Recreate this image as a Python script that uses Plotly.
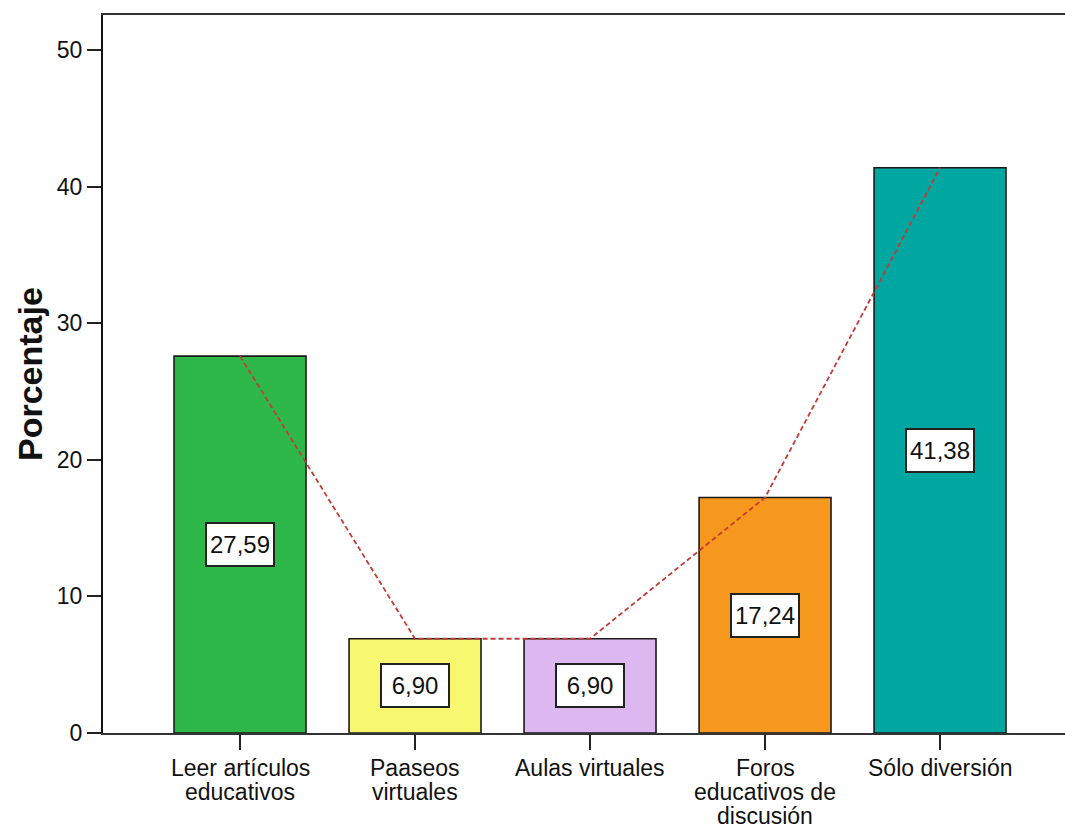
import plotly.graph_objects as go

categories = ["Leer artículos educativos", "Paaseos virtuales", "Aulas virtuales",
              "Foros educativos de discusión", "Sólo diversión"]
label_lines = [["Leer artículos", "educativos"], ["Paaseos", "virtuales"], ["Aulas virtuales"],
               ["Foros", "educativos de", "discusión"], ["Sólo diversión"]]
values = [27.59, 6.90, 6.90, 17.24, 41.38]
colors = ["#2EB84A", "#F8F870", "#DDB8F0", "#F7981E", "#00A6A0"]
y_ticks = [0, 10, 20, 30, 40, 50]

FONT = "Liberation Sans, Arial, sans-serif"
pos = list(range(len(categories)))

fig = go.Figure()
fig.add_trace(go.Bar(x=pos, y=values, width=0.754,
                     marker=dict(color=colors, line=dict(color="#1a1a1a", width=1.6)),
                     hoverinfo="skip"))
fig.add_trace(go.Scatter(x=pos, y=values, mode="lines",
                         line=dict(color="#C43A35", width=1.8, dash="5px,3px"),
                         hoverinfo="skip"))

annotations = []
for i, v in enumerate(values):
    annotations.append(dict(x=i, y=v / 2, xref="x", yref="y", showarrow=False,
                            text=f"{v:.2f}".replace(".", ","),
                            width=62, height=37,
                            font=dict(family=FONT, size=24, color="#111"),
                            bgcolor="white", bordercolor="#222", borderwidth=2, borderpad=2))
for i, lines in enumerate(label_lines):
    for j, ln in enumerate(lines):
        annotations.append(dict(x=i, y=0, xref="x", yref="paper", showarrow=False,
                                text=ln, yanchor="middle", yshift=-35 - 24 * j,
                                font=dict(family=FONT, size=23, color="#111")))
annotations.append(dict(x=0, y=0.5, xref="paper", yref="paper", showarrow=False,
                        text="Porcentaje", textangle=-90, xshift=-73, xanchor="center",
                        font=dict(family=FONT, size=34, color="#111", weight="bold")))

fig.update_layout(
    width=1065, height=827,
    margin=dict(l=103, r=0, t=15, b=94),
    paper_bgcolor="white", plot_bgcolor="white",
    showlegend=False,
    annotations=annotations,
    xaxis=dict(range=[-0.783, 4.714], tickvals=pos, showticklabels=False,
               ticks="outside", ticklen=15, tickwidth=2, tickcolor="#222",
               showline=True, linecolor="#333", linewidth=2, mirror=True,
               showgrid=False, zeroline=False, fixedrange=True),
    yaxis=dict(range=[0, 52.56], tickvals=y_ticks, ticks="outside", ticklen=14,
               tickwidth=2, tickcolor="#222",
               tickfont=dict(family=FONT, size=23, color="#111"),
               showline=True, linecolor="#111", linewidth=2,
               showgrid=False, zeroline=False, fixedrange=True),
)

fig.write_html("out.html", config={"displayModeBar": False},
               post_script="document.body.style.margin='0';document.body.style.overflow='hidden';")
